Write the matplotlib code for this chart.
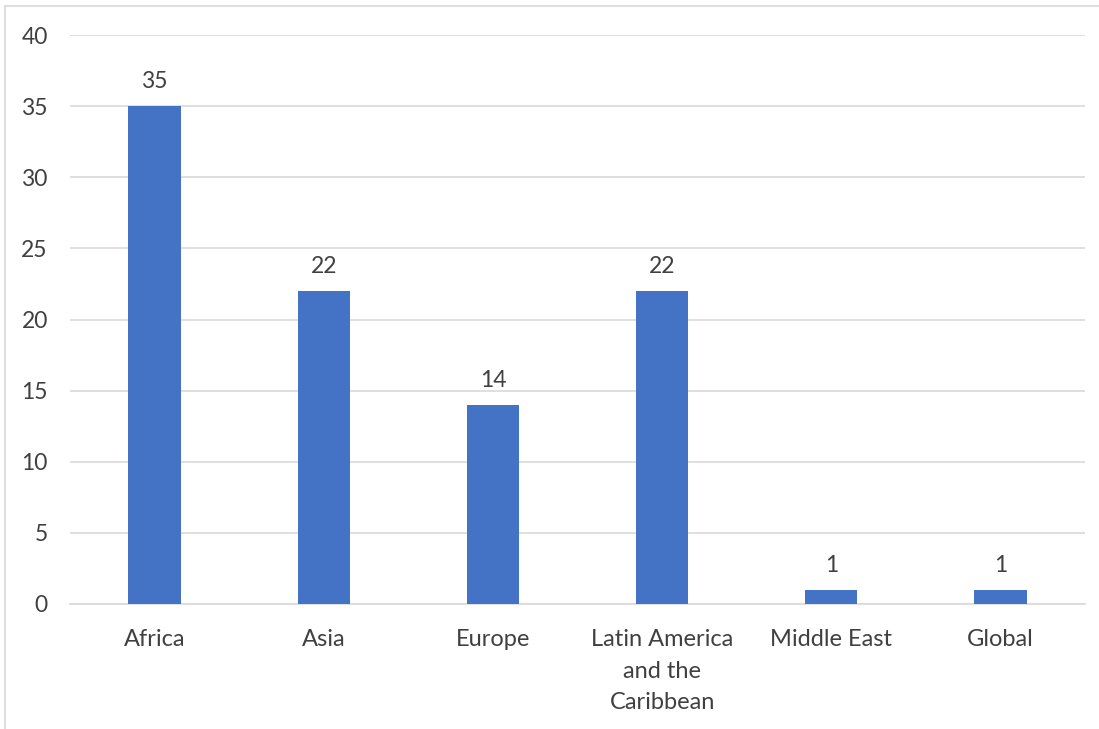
import matplotlib
matplotlib.use("Agg")
import matplotlib.pyplot as plt
from matplotlib.lines import Line2D

categories = ["Africa", "Asia", "Europe", "Latin America\nand the\nCaribbean", "Middle East", "Global"]
values = [35, 22, 14, 22, 1, 1]
yticks = [0, 5, 10, 15, 20, 25, 30, 35, 40]

plt.rcParams['font.family'] = ['Lato', 'DejaVu Sans']

fig = plt.figure(figsize=(10.99, 7.29), dpi=100)
ax = fig.add_axes([70/1099, 1-604/729, (1085-70)/1099, (604-35)/729])

x = list(range(len(categories)))
bars = ax.bar(x, values, width=0.31, color='#4472C4', zorder=3)
for xi, v in zip(x, values):
    ax.annotate(str(v), (xi, v), xytext=(0, 10), textcoords='offset points',
                ha='center', va='bottom', fontsize=16.5, color='#404040')

ax.set_xlim(-0.5, len(categories) - 0.5)
ax.set_ylim(0, 40)
ax.set_yticks(yticks)
ax.set_xticks(x)
ax.set_xticklabels(categories, fontsize=17, color='#404040', linespacing=1.62)
ax.tick_params(axis='y', labelsize=16.5, labelcolor='#404040', length=0, pad=16)
ax.tick_params(axis='x', length=0, pad=18)
ax.grid(axis='y', color='#d9d9d9', linewidth=1.2, zorder=0)
for s in ['top', 'right', 'left']:
    ax.spines[s].set_visible(False)
ax.spines['bottom'].set_color('#d9d9d9')
ax.spines['bottom'].set_linewidth(1.2)

# outer chart border (top and left visible)
fig.add_artist(Line2D([5/1099, 5/1099], [0, 1-6/729], transform=fig.transFigure, color='#d9d9d9', linewidth=1.2))
fig.add_artist(Line2D([5/1099, 1], [1-6/729, 1-6/729], transform=fig.transFigure, color='#d9d9d9', linewidth=1.2))

fig.savefig("out.png", dpi=100)
